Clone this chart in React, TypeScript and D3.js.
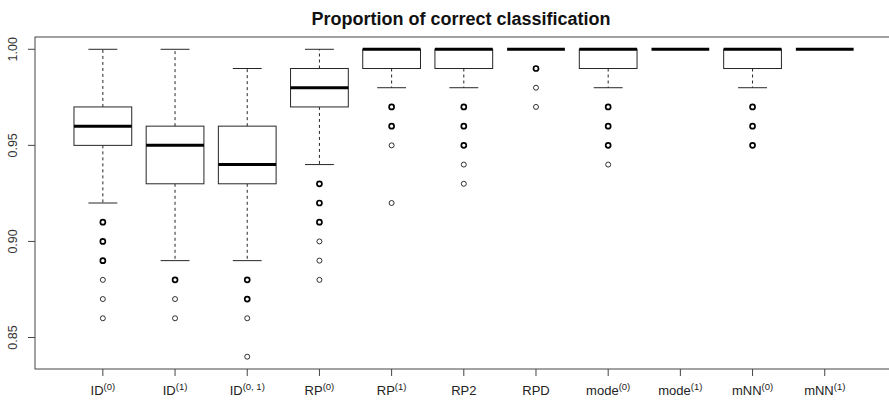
import React from 'react'
import * as d3 from 'd3'

const W = 889
const H = 401

// category labels: base text + superscript
const labelBase = ['ID', 'ID', 'ID', 'RP', 'RP', 'RP2', 'RPD', 'mode', 'mode', 'mNN', 'mNN']
const labelSup = ['(0)', '(1)', '(0, 1)', '(0)', '(1)', '', '', '(0)', '(1)', '(0)', '(1)']

// five-number summaries
const whiskerHigh = [1.00, 1.00, 0.99, 1.00, 1.00, 1.00, 1.00, 1.00, 1.00, 1.00, 1.00]
const q3 = [0.97, 0.96, 0.96, 0.99, 1.00, 1.00, 1.00, 1.00, 1.00, 1.00, 1.00]
const medians = [0.96, 0.95, 0.94, 0.98, 1.00, 1.00, 1.00, 1.00, 1.00, 1.00, 1.00]
const q1 = [0.95, 0.93, 0.93, 0.97, 0.99, 0.99, 1.00, 0.99, 1.00, 0.99, 1.00]
const whiskerLow = [0.92, 0.89, 0.89, 0.94, 0.98, 0.98, 1.00, 0.98, 1.00, 0.98, 1.00]

// outliers: [value, repeated?] — repeated points are drawn heavier
const outliers: [number, boolean][][] = [
  [[0.91, true], [0.90, true], [0.89, true], [0.88, false], [0.87, false], [0.86, false]],
  [[0.88, true], [0.87, false], [0.86, false]],
  [[0.88, true], [0.87, true], [0.86, false], [0.84, false]],
  [[0.93, true], [0.92, true], [0.91, true], [0.90, false], [0.89, false], [0.88, false]],
  [[0.97, true], [0.96, true], [0.95, false], [0.92, false]],
  [[0.97, true], [0.96, true], [0.95, true], [0.94, false], [0.93, false]],
  [[0.99, true], [0.98, false], [0.97, false]],
  [[0.97, true], [0.96, true], [0.95, true], [0.94, false]],
  [],
  [[0.97, true], [0.96, true], [0.95, true]],
  [],
]

const yTicks = [0.85, 0.90, 0.95, 1.00]

const FONT = '"Liberation Sans", Arial, Helvetica, sans-serif'

export default function App() {
  const left = 35, right = 892.6, top = 37, bottom = 369
  const n = labelBase.length
  const x = d3.scaleLinear().domain([0.06, n + 0.94]).range([left, right])
  const y = d3.scaleLinear().domain([0.8336, 1.0064]).range([bottom, top])
  const unit = x(2) - x(1)
  const boxW = unit * 0.8
  const capW = boxW / 2
  const ink = '#262626'

  return (
    <svg width={W} height={H} style={{ position: 'absolute', left: 0, top: 0, background: '#fff' }}
      fontFamily={FONT}>
      <text x={461} y={25} textAnchor="middle" fontWeight="bold" fontSize={18}
        fill="#111">Proportion of correct classification</text>

      {/* boxes */}
      {labelBase.map((_, i) => {
        const cx = x(i + 1)
        return (
          <g key={i}>
            <line x1={cx} x2={cx} y1={y(q3[i])} y2={y(whiskerHigh[i])} stroke={ink}
              strokeDasharray="3,3" strokeWidth={1} />
            <line x1={cx} x2={cx} y1={y(q1[i])} y2={y(whiskerLow[i])} stroke={ink}
              strokeDasharray="3,3" strokeWidth={1} />
            <line x1={cx - capW / 2} x2={cx + capW / 2} y1={y(whiskerHigh[i])} y2={y(whiskerHigh[i])}
              stroke={ink} strokeWidth={1} />
            <line x1={cx - capW / 2} x2={cx + capW / 2} y1={y(whiskerLow[i])} y2={y(whiskerLow[i])}
              stroke={ink} strokeWidth={1} />
            <rect x={cx - boxW / 2} y={y(q3[i])} width={boxW} height={y(q1[i]) - y(q3[i])}
              fill="#fff" stroke={ink} strokeWidth={1} />
            <line x1={cx - boxW / 2} x2={cx + boxW / 2} y1={y(medians[i])} y2={y(medians[i])}
              stroke="#000" strokeWidth={3} />
            {outliers[i].map(([v, heavy], j) => (
              <circle key={j} cx={cx} cy={y(v)} r={2.5} fill="none" stroke="#000"
                strokeWidth={heavy ? 1.7 : 0.8} />
            ))}
          </g>
        )
      })}

      {/* frame */}
      <rect x={left} y={top} width={right - left} height={bottom - top} fill="none" stroke="#444" strokeWidth={1} />

      {/* y axis */}
      {yTicks.map(t => (
        <g key={t}>
          <line x1={left - 7} x2={left} y1={y(t)} y2={y(t)} stroke="#444" />
          <text transform={`translate(${left - 18},${y(t)}) rotate(-90)`} textAnchor="middle"
            fontSize={12.5} fill="#333">{t.toFixed(2)}</text>
        </g>
      ))}

      {/* x axis */}
      {labelBase.map((b, i) => (
        <g key={i}>
          <line x1={x(i + 1)} x2={x(i + 1)} y1={bottom} y2={bottom + 7} stroke="#444" />
          <text x={x(i + 1)} y={395} textAnchor="middle" fontSize={13} fill="#222">
            {b}
            {labelSup[i] && <tspan dy={-5.5} fontSize={9.5}>{labelSup[i]}</tspan>}
          </text>
        </g>
      ))}
    </svg>
  )
}
